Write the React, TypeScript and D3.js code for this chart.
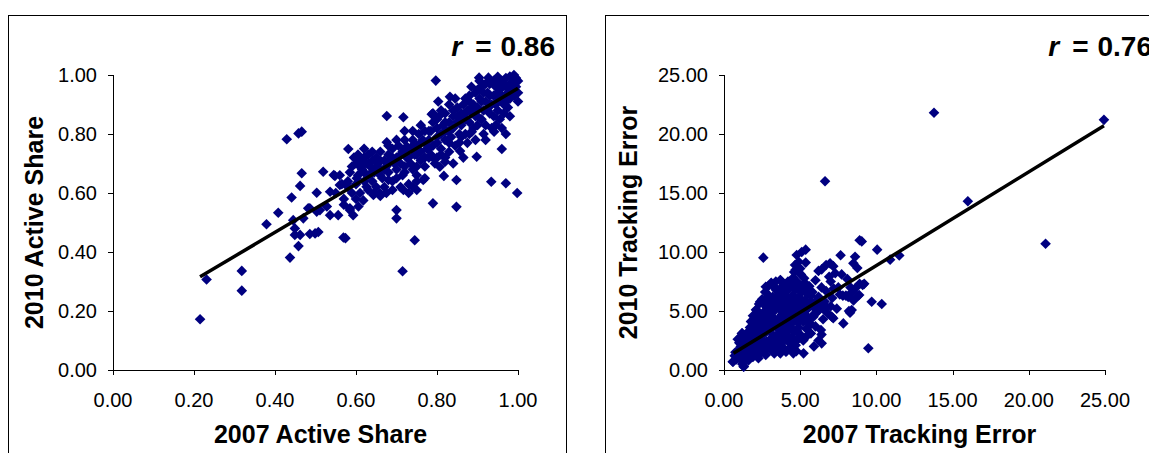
import * as d3 from "d3";

// Active Share: [2007, 2010]
const activeSharePoints: [number, number][] = [
  [0.215, 0.172], [0.231, 0.307], [0.318, 0.336], [0.318, 0.269], [0.379, 0.494], [0.408, 0.533],
  [0.437, 0.381], [0.458, 0.42], [0.449, 0.48], [0.449, 0.458], [0.462, 0.458], [0.486, 0.461],
  [0.499, 0.463], [0.507, 0.468], [0.569, 0.449], [0.574, 0.447], [0.715, 0.335], [0.745, 0.44],
  [0.429, 0.782], [0.458, 0.802], [0.466, 0.808], [0.445, 0.508], [0.47, 0.514], [0.482, 0.548],
  [0.503, 0.537], [0.528, 0.554], [0.536, 0.525], [0.556, 0.525], [0.585, 0.542], [0.593, 0.525],
  [0.606, 0.554], [0.441, 0.585], [0.462, 0.624], [0.466, 0.667], [0.519, 0.672], [0.548, 0.658],
  [0.503, 0.601], [0.536, 0.604], [0.56, 0.627], [0.577, 0.633], [0.602, 0.65], [0.486, 0.548],
  [0.511, 0.542], [0.585, 0.548], [0.70, 0.542], [0.70, 0.514], [0.581, 0.749], [0.676, 0.772],
  [0.676, 0.861], [0.717, 0.857], [0.797, 0.981], [0.904, 0.991], [0.927, 0.991], [0.95, 0.994],
  [0.832, 0.926], [0.803, 0.91], [0.787, 0.867], [0.941, 0.808], [0.96, 0.749], [0.898, 0.723],
  [0.82, 0.706], [0.807, 0.689], [0.857, 0.742], [0.886, 0.808], [0.68, 0.644], [0.717, 0.61],
  [0.75, 0.61], [0.766, 0.644], [0.626, 0.621], [0.643, 0.593], [0.659, 0.599], [0.79, 0.565],
  [0.848, 0.553], [0.934, 0.638], [0.97, 0.633], [0.998, 0.60], [0.848, 0.644], [0.817, 0.658],
  [0.545, 0.661], [0.726, 0.757],
  // x 0.55 - 0.62
  [0.55, 0.60], [0.56, 0.66], [0.57, 0.58], [0.58, 0.62], [0.59, 0.69], [0.595, 0.72], [0.60, 0.70],
  [0.605, 0.66], [0.61, 0.60], [0.612, 0.71], [0.615, 0.68], [0.62, 0.64], [0.62, 0.72], [0.59, 0.60],
  [0.60, 0.58], [0.57, 0.56], [0.565, 0.63], [0.585, 0.67], [0.605, 0.73], [0.618, 0.575],
  [0.61, 0.69], [0.58, 0.64], [0.60, 0.63],
  // x 0.62 - 0.70
  [0.625, 0.70], [0.63, 0.66], [0.63, 0.73], [0.635, 0.69], [0.64, 0.71], [0.64, 0.64], [0.645, 0.67],
  [0.65, 0.72], [0.65, 0.62], [0.655, 0.70], [0.66, 0.68], [0.66, 0.74], [0.665, 0.65], [0.67, 0.71],
  [0.67, 0.62], [0.675, 0.69], [0.68, 0.73], [0.68, 0.67], [0.685, 0.71], [0.69, 0.75], [0.69, 0.64],
  [0.695, 0.70], [0.70, 0.72], [0.70, 0.68], [0.63, 0.61], [0.645, 0.60], [0.66, 0.59], [0.675, 0.60],
  [0.69, 0.61], [0.70, 0.65], [0.63, 0.70], [0.65, 0.69], [0.67, 0.68], [0.69, 0.72], [0.62, 0.75],
  [0.64, 0.74], [0.66, 0.71], [0.68, 0.76], [0.68, 0.70], [0.66, 0.66], [0.64, 0.67], [0.62, 0.67],
  // x 0.70 - 0.78
  [0.705, 0.76], [0.71, 0.70], [0.71, 0.62], [0.715, 0.74], [0.72, 0.78], [0.72, 0.67], [0.725, 0.72],
  [0.73, 0.75], [0.73, 0.63], [0.735, 0.70], [0.74, 0.78], [0.74, 0.68], [0.745, 0.73], [0.75, 0.76],
  [0.75, 0.66], [0.755, 0.80], [0.76, 0.71], [0.76, 0.74], [0.765, 0.78], [0.77, 0.69], [0.77, 0.81],
  [0.775, 0.75], [0.78, 0.78], [0.78, 0.72], [0.72, 0.81], [0.74, 0.81], [0.76, 0.83], [0.73, 0.60],
  [0.75, 0.64], [0.77, 0.65], [0.715, 0.66], [0.74, 0.62], [0.71, 0.73], [0.73, 0.72], [0.75, 0.73],
  [0.77, 0.77], [0.78, 0.75], [0.70, 0.78], [0.72, 0.75], [0.74, 0.76], [0.76, 0.77], [0.77, 0.72],
  [0.75, 0.69], [0.72, 0.69],
  // x 0.78 - 0.86
  [0.785, 0.81], [0.79, 0.76], [0.79, 0.84], [0.795, 0.70], [0.80, 0.79], [0.80, 0.82], [0.805, 0.86],
  [0.81, 0.75], [0.81, 0.80], [0.815, 0.83], [0.82, 0.78], [0.82, 0.87], [0.825, 0.81], [0.83, 0.84],
  [0.83, 0.74], [0.835, 0.79], [0.84, 0.86], [0.84, 0.82], [0.845, 0.76], [0.85, 0.84], [0.85, 0.89],
  [0.855, 0.80], [0.86, 0.87], [0.86, 0.83], [0.80, 0.72], [0.82, 0.72], [0.84, 0.70], [0.785, 0.73],
  [0.83, 0.90], [0.81, 0.88], [0.79, 0.87], [0.845, 0.92], [0.855, 0.77], [0.865, 0.72], [0.80, 0.77],
  [0.82, 0.84], [0.83, 0.81], [0.84, 0.88], [0.86, 0.85], [0.78, 0.81], [0.80, 0.85], [0.82, 0.81],
  [0.85, 0.86], [0.86, 0.79], [0.83, 0.77], [0.81, 0.73], [0.79, 0.72],
  // x 0.86 - 0.94
  [0.865, 0.90], [0.87, 0.85], [0.87, 0.80], [0.875, 0.88], [0.88, 0.93], [0.88, 0.84], [0.885, 0.87],
  [0.89, 0.90], [0.89, 0.82], [0.895, 0.94], [0.90, 0.86], [0.90, 0.89], [0.905, 0.92], [0.91, 0.85],
  [0.91, 0.96], [0.915, 0.88], [0.92, 0.91], [0.92, 0.83], [0.925, 0.94], [0.93, 0.87], [0.93, 0.97],
  [0.935, 0.90], [0.94, 0.93], [0.94, 0.86], [0.875, 0.77], [0.895, 0.78], [0.915, 0.80], [0.885, 0.96],
  [0.905, 0.98], [0.92, 0.78], [0.935, 0.82], [0.87, 0.92], [0.88, 0.91], [0.885, 0.89], [0.895, 0.86],
  [0.90, 0.95], [0.90, 0.83], [0.915, 0.94], [0.92, 0.97], [0.925, 0.88], [0.93, 0.93], [0.87, 0.87],
  [0.89, 0.88], [0.91, 0.91], [0.93, 0.90], [0.88, 0.80],
  // x 0.94 - 1.00
  [0.945, 0.96], [0.95, 0.91], [0.95, 0.88], [0.955, 0.95], [0.96, 0.98], [0.96, 0.93], [0.965, 0.90],
  [0.97, 0.96], [0.97, 0.99], [0.975, 0.94], [0.98, 0.97], [0.98, 0.92], [0.985, 0.99], [0.985, 0.95],
  [0.99, 0.97], [0.99, 1.0], [0.995, 0.96], [0.995, 0.99], [1.0, 0.98], [1.0, 0.94], [0.99, 0.93],
  [0.975, 0.89], [0.955, 0.85], [0.965, 0.87], [0.945, 0.83], [0.96, 0.82], [0.98, 0.86], [1.0, 0.91],
  [0.97, 0.80], [0.945, 0.90], [0.95, 0.97], [0.955, 0.92], [0.965, 0.97], [0.94, 0.98], [0.97, 0.93],
  [0.98, 0.995], [0.99, 0.95], [0.95, 0.94], [0.97, 0.91],
];

// Tracking Error: [2007, 2010]
const trackingErrorPoints: [number, number][] = [
  [13.78, 21.8], [24.93, 21.2], [6.63, 16.0], [16.0, 14.3], [21.1, 10.7], [9.47, 1.84], [9.69, 5.79],
  [10.35, 5.59], [11.5, 9.7], [10.9, 9.35], [9.04, 10.9], [8.9, 11.0], [10.05, 10.2], [2.58, 9.52],
  [4.77, 9.75], [5.1, 10.0], [5.36, 10.2], [4.66, 8.9], [5.36, 9.1], [7.65, 9.72], [8.6, 9.6],
  [8.49, 9.04], [6.41, 8.53], [6.96, 9.04], [7.17, 8.8], [7.72, 8.1], [8.38, 5.08], [8.27, 4.86],
  [7.83, 3.95], [7.17, 4.38], [6.36, 3.39], [6.41, 2.26], [5.22, 1.41], [4.55, 1.41], [8.15, 6.2],
  [8.87, 6.35], [9.1, 7.2], [8.63, 6.95], [8.75, 8.65], [0.57, 0.7], [1.29, 0.28], [1.05, 1.0],
  [1.54, 2.97], [1.17, 3.1], [1.77, 4.1], [2.13, 5.08], [2.37, 5.79], [2.74, 7.06], [3.1, 7.34],
  [3.7, 7.63], [4.3, 7.48], [4.9, 7.34], [5.26, 7.77], [4.9, 9.18], [4.7, 8.5], [2.26, 0.99],
  [2.74, 1.27], [3.7, 1.41], [4.06, 1.55], [4.66, 2.12], [4.9, 2.68], [5.26, 2.68], [5.62, 3.8],
  [5.87, 4.52], [6.1, 4.94], [5.98, 5.79], [6.59, 5.08], [6.71, 5.36], [7.07, 4.52],
  // x 0.5 - 1.5
  [0.6, 0.7], [0.7, 1.2], [0.8, 0.9], [0.9, 1.6], [1.0, 1.0], [1.0, 2.3], [1.1, 1.4], [1.1, 2.8],
  [1.2, 0.5], [1.2, 1.9], [1.3, 0.3], [1.3, 2.5], [1.4, 1.2], [1.4, 3.0], [1.5, 1.7], [1.5, 2.2],
  [0.9, 2.6], [1.2, 3.1], [1.25, 0.9], [0.75, 1.5], [1.4, 2.4], [1.1, 2.0], [0.8, 1.3], [1.5, 1.0],
  // x 1.5 - 2.5
  [1.6, 0.8], [1.6, 2.9], [1.7, 1.5], [1.7, 3.6], [1.8, 2.2], [1.8, 4.1], [1.9, 1.1], [1.9, 3.0],
  [2.0, 2.6], [2.0, 4.5], [2.0, 1.6], [2.1, 3.4], [2.1, 5.1], [2.2, 2.0], [2.2, 3.9], [2.3, 1.3],
  [2.3, 2.8], [2.3, 5.6], [2.4, 3.3], [2.4, 4.4], [2.5, 1.9], [2.5, 6.0], [2.5, 2.5], [1.65, 3.3],
  [1.85, 2.7], [2.05, 3.9], [2.15, 1.2], [2.35, 4.8], [2.45, 3.7], [1.95, 2.1], [1.6, 2.0],
  [1.8, 3.3], [2.0, 3.2], [2.2, 2.6], [2.2, 4.6], [2.4, 2.2], [1.9, 4.6], [2.1, 1.8], [2.5, 4.2],
  [2.3, 3.6], [1.7, 2.6],
  // x 2.5 - 3.5
  [2.6, 3.0], [2.6, 4.9], [2.7, 1.6], [2.7, 3.8], [2.7, 6.6], [2.8, 2.4], [2.8, 5.3], [2.9, 4.2],
  [2.9, 7.1], [3.0, 1.8], [3.0, 3.3], [3.0, 5.8], [3.1, 2.7], [3.1, 4.6], [3.1, 7.4], [3.2, 3.7],
  [3.2, 6.2], [3.3, 1.4], [3.3, 2.2], [3.3, 5.0], [3.4, 4.1], [3.4, 6.8], [3.5, 3.0], [3.5, 5.5],
  [3.5, 1.9], [2.65, 2.1], [2.85, 3.4], [2.95, 6.3], [3.05, 4.0], [3.15, 5.3], [3.25, 2.9],
  [3.35, 7.0], [3.45, 3.6], [2.75, 4.5], [3.2, 1.7], [2.6, 3.6], [2.6, 5.6], [2.8, 4.0], [2.8, 6.1],
  [3.0, 2.4], [3.0, 4.9], [3.2, 4.4], [3.4, 5.6], [3.4, 2.6], [3.3, 6.0], [2.9, 5.0], [3.4, 7.5],
  // x 3.5 - 4.5
  [3.6, 4.4], [3.6, 6.6], [3.6, 2.5], [3.7, 3.4], [3.7, 5.1], [3.7, 7.6], [3.8, 2.0], [3.8, 4.7],
  [3.8, 6.0], [3.9, 3.8], [3.9, 5.6], [3.9, 7.2], [4.0, 2.8], [4.0, 4.2], [4.0, 6.4], [4.1, 1.6],
  [4.1, 5.0], [4.1, 3.3], [4.2, 5.9], [4.2, 7.5], [4.3, 2.3], [4.3, 4.6], [4.3, 6.9], [4.4, 3.6],
  [4.4, 5.4], [4.5, 4.0], [4.5, 6.3], [4.5, 2.7], [3.65, 1.5], [3.85, 3.0], [4.05, 7.0], [4.25, 3.9],
  [4.35, 1.9], [4.45, 7.7], [3.75, 5.7], [3.95, 4.9], [3.6, 3.8], [3.6, 5.8], [3.8, 5.3], [4.0, 3.6],
  [4.0, 5.5], [4.2, 4.2], [4.2, 2.9], [4.4, 6.0], [3.9, 6.8], [4.4, 7.1], [3.5, 6.3], [3.7, 6.9],
  [4.1, 6.7], [4.3, 5.6], [3.9, 2.4],
  // x 4.5 - 5.5
  [4.6, 5.0], [4.6, 3.2], [4.6, 8.3], [4.7, 6.8], [4.7, 2.1], [4.7, 4.3], [4.8, 5.7], [4.8, 7.3],
  [4.9, 3.6], [4.9, 2.7], [4.9, 6.2], [5.0, 4.8], [5.0, 7.0], [5.0, 3.0], [5.1, 5.4], [5.1, 6.6],
  [5.2, 4.1], [5.2, 2.5], [5.3, 5.9], [5.3, 7.4], [5.4, 3.5], [5.4, 4.6], [5.5, 6.4], [5.5, 5.2],
  [4.55, 6.0], [4.75, 1.6], [4.85, 4.0], [5.05, 8.1], [5.25, 6.9], [5.45, 2.9], [4.6, 4.5],
  [4.8, 5.0], [4.8, 3.3], [5.0, 6.0], [5.2, 5.0], [5.4, 6.8], [4.7, 5.4], [4.9, 5.3], [5.1, 4.4],
  [5.3, 4.3], [4.6, 7.8], [5.0, 8.6],
  // x 5.5 - 7
  [5.6, 4.0], [5.6, 7.1], [5.7, 5.8], [5.7, 3.1], [5.8, 4.6], [5.8, 6.6], [5.9, 5.3], [6.0, 3.7],
  [6.0, 7.6], [6.1, 4.9], [6.2, 6.2], [6.2, 2.5], [6.3, 5.5], [6.4, 3.0], [6.4, 7.0], [6.5, 4.3],
  [6.6, 5.8], [6.7, 6.7], [6.8, 4.8], [6.9, 7.9], [7.0, 5.4], [7.1, 6.1], [6.2, 8.4], [6.7, 8.9],
  [7.0, 7.5], [5.9, 2.0], [5.6, 5.6], [5.7, 6.3],
  // x 7 - 9
  [7.2, 6.9], [7.3, 8.2], [7.5, 7.0], [7.6, 6.4], [7.8, 6.3], [8.0, 6.3], [8.1, 7.7], [8.3, 7.0],
  [8.4, 6.6], [8.5, 5.9], [8.8, 6.3], [8.9, 7.3], [9.2, 7.3], [7.4, 5.2], [8.2, 5.0],
];

const activeShareTrend: [number, number][] = [[0.215, 0.316], [1.0, 0.955]];
const trackingErrorTrend: [number, number][] = [[0.62, 1.41], [24.93, 20.7]];

const activeShareTicks = [0, 0.2, 0.4, 0.6, 0.8, 1.0];
const trackingErrorTicks = [0, 5, 10, 15, 20, 25];

const FONT = "Arial, 'Liberation Sans', sans-serif";
const NAVY = "#000080";

interface PanelProps {
  frameX: number;
  frameW: number;
  left: number;
  right: number;
  top: number;
  bottom: number;
  yTitleX: number;
  points: [number, number][];
  trend: [number, number][];
  ticks: number[];
  xTitle: string;
  yTitle: string;
  r: string;
}

function Panel(p: PanelProps) {
  const domain = d3.extent(p.ticks) as [number, number];
  const x = d3.scaleLinear().domain(domain).range([p.left, p.right]);
  const y = d3.scaleLinear().domain(domain).range([p.bottom, p.top]);
  const fmt = d3.format(".2f");
  const line = d3
    .line<[number, number]>()
    .x((d) => x(d[0]))
    .y((d) => y(d[1]));
  // Excel-style diamond marker (square turned 45°)
  const diamond = (cx: number, cy: number, s = 5.3) =>
    `M${cx},${cy - s}L${cx + s},${cy}L${cx},${cy + s}L${cx - s},${cy}Z`;

  return (
    <g fontFamily={FONT}>
      <rect
        x={p.frameX + 0.5}
        y={15.5}
        width={p.frameW}
        height={460}
        fill="#fff"
        stroke="#000"
        strokeWidth={1}
      />
      <text
        x={p.frameX + p.frameW - 11}
        y={56}
        textAnchor="end"
        fontWeight="bold"
        fontSize={28}
      >
        <tspan fontStyle="italic">r</tspan>
        <tspan dx={13}>=</tspan>
        <tspan dx={9}>{p.r}</tspan>
      </text>

      {/* axes */}
      <line x1={p.left + 0.5} x2={p.left + 0.5} y1={p.top} y2={p.bottom} stroke="#000" />
      <line x1={p.left} x2={p.right} y1={p.bottom + 0.5} y2={p.bottom + 0.5} stroke="#000" />
      {p.ticks.map((t) => (
        <g key={"y" + t}>
          <line
            x1={p.left - 5}
            x2={p.left}
            y1={Math.round(y(t)) + 0.5}
            y2={Math.round(y(t)) + 0.5}
            stroke="#000"
          />
          <text x={p.left - 16} y={y(t) + 7} textAnchor="end" fontSize={20}>
            {fmt(t)}
          </text>
        </g>
      ))}
      {p.ticks.map((t) => (
        <g key={"x" + t}>
          <line
            x1={Math.round(x(t)) + 0.5}
            x2={Math.round(x(t)) + 0.5}
            y1={p.bottom}
            y2={p.bottom + 5}
            stroke="#000"
          />
          <text x={x(t)} y={406.5} textAnchor="middle" fontSize={20}>
            {fmt(t)}
          </text>
        </g>
      ))}

      {/* markers */}
      {p.points.map((d, i) => (
        <path key={i} d={diamond(x(d[0]), y(d[1]))} fill={NAVY} />
      ))}

      {/* trend line */}
      <path d={line(p.trend) || ""} fill="none" stroke="#000" strokeWidth={3.5} />

      <text
        x={(p.left + p.right) / 2 + 5}
        y={443}
        textAnchor="middle"
        fontWeight="bold"
        fontSize={25}
      >
        {p.xTitle}
      </text>
      <text
        transform={`translate(${p.yTitleX},${(p.top + p.bottom) / 2}) rotate(-90)`}
        textAnchor="middle"
        fontWeight="bold"
        fontSize={25}
      >
        {p.yTitle}
      </text>
    </g>
  );
}

export default function App() {
  return (
    <svg
      width={1149}
      height={453}
      style={{ position: "absolute", left: 0, top: 0, background: "#fff" }}
    >
      <rect width={1149} height={453} fill="#fff" />
      <Panel
        frameX={8}
        frameW={558}
        left={113}
        right={518}
        top={75}
        bottom={370}
        yTitleX={43}
        points={activeSharePoints}
        trend={activeShareTrend}
        ticks={activeShareTicks}
        xTitle="2007 Active Share"
        yTitle="2010 Active Share"
        r="0.86"
      />
      <Panel
        frameX={605}
        frameW={558}
        left={724}
        right={1105}
        top={75}
        bottom={370}
        yTitleX={637}
        points={trackingErrorPoints}
        trend={trackingErrorTrend}
        ticks={trackingErrorTicks}
        xTitle="2007 Tracking Error"
        yTitle="2010 Tracking Error"
        r="0.76"
      />
    </svg>
  );
}
